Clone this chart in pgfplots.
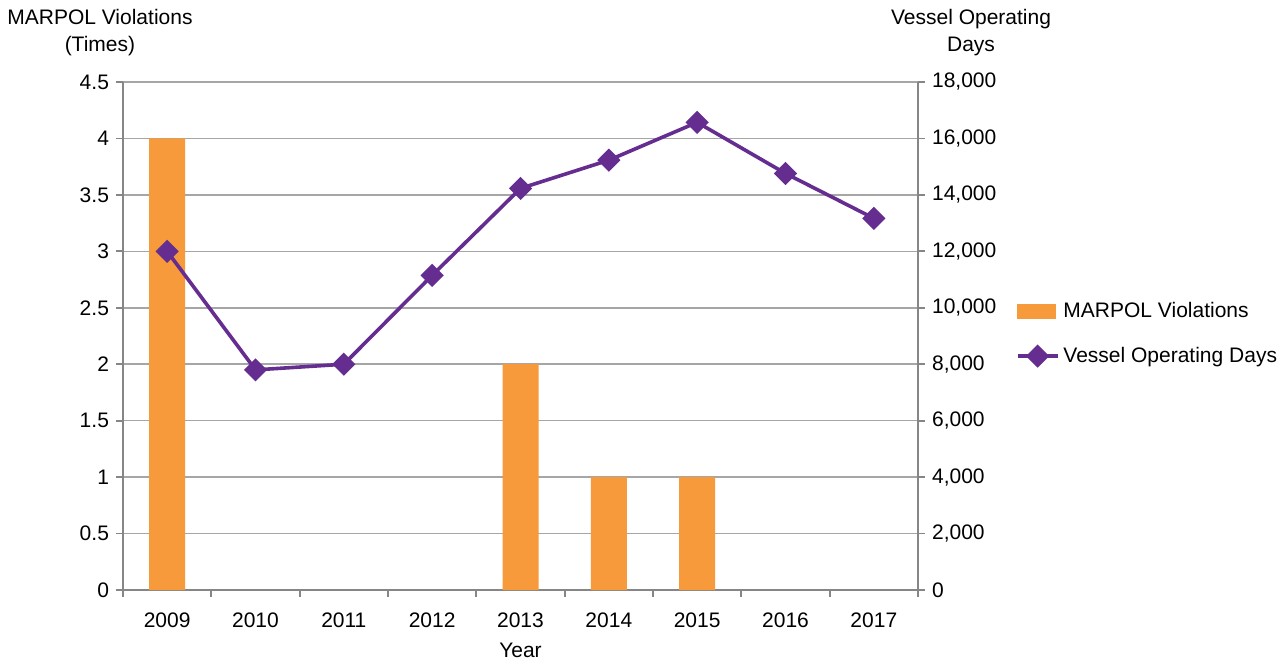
\documentclass[border=0pt]{standalone}
\usepackage{fontspec}
\setmainfont{Liberation Sans}
\usepackage{pgfplots}
\pgfplotsset{compat=1.18}
\definecolor{barorange}{RGB}{247,154,59}
\definecolor{linepurple}{RGB}{102,45,145}
\definecolor{gridgray}{RGB}{166,166,166}
\definecolor{axgray}{RGB}{134,134,134}
\begin{document}
\begin{tikzpicture}[font=\fontsize{10.5pt}{13.5pt}\selectfont]
\path[use as bounding box] (-61.5pt,-35pt) rectangle (580.5pt,295pt);
\begin{axis}[
  scale only axis, width=397.5pt, height=254pt,
  clip=false,
  xmin=-0.5, xmax=8.5, ymin=0, ymax=4.5,
  ybar, bar width=18pt,
  axis x line*=bottom, axis y line*=left,
  axis line style={axgray, line width=0.9pt},
  tick style={axgray, line width=0.9pt},
  tick align=outside,
  major tick length=3.5pt,
  xtick={-0.5,0.5,1.5,2.5,3.5,4.5,5.5,6.5,7.5,8.5},
  xticklabels={},
  extra x ticks={0,1,2,3,4,5,6,7,8},
  extra x tick labels={2009,2010,2011,2012,2013,2014,2015,2016,2017},
  extra x tick style={major tick length=0pt, xticklabel style={yshift=-8pt}},
  ytick={0,0.5,1,1.5,2,2.5,3,3.5,4,4.5},
  ymajorgrids,
  grid style={gridgray, line width=0.75pt},
  /pgf/number format/assume math mode=true,
  xlabel={Year},
  xlabel style={at={(axis description cs:0.5,-0.118)}, anchor=center},
  yticklabel style={text=black},
  xticklabel style={text=black},
]
\addplot[fill=barorange, draw=none] coordinates {(0,4)(4,2)(5,1)(6,1)};
\node[align=center] at (rel axis cs:-0.029,1.0965) {MARPOL Violations\\(Times)};
\node[align=center] at (rel axis cs:1.0667,1.0965) {Vessel Operating\\Days};
\end{axis}
\begin{axis}[
  scale only axis, width=397.5pt, height=254pt,
  clip=false,
  xmin=-0.5, xmax=8.5, ymin=0, ymax=18000,
  axis x line=none, axis y line*=right,
  axis line style={axgray, line width=0.9pt},
  tick style={axgray, line width=0.9pt},
  tick align=outside,
  major tick length=3.5pt,
  ytick={0,2000,4000,6000,8000,10000,12000,14000,16000,18000},
  scaled y ticks=false,
  /pgf/number format/assume math mode=true,
  yticklabel style={text=black, /pgf/number format/1000 sep={,}},
  legend style={at={(rel axis cs:1.115,0.504)}, anchor=west, draw=none, fill=none,
    row sep=9pt, legend cell align=left, font=\fontsize{10.5pt}{12.6pt}\selectfont},
]
\addlegendimage{legend image code/.code={\fill[barorange] (0pt,-3.5pt) rectangle (19pt,3.5pt);}}
\addlegendentry{MARPOL Violations}
\addplot[linepurple, line width=1.8pt, mark=square*, mark size=3.2pt,
  mark options={rotate=45, solid},
  legend image code/.code={\draw[mark repeat=2,mark phase=2] plot coordinates {(0pt,0pt)(10pt,0pt)(20pt,0pt)};}]
  coordinates {(0,12000)(1,7800)(2,8000)(3,11150)(4,14230)(5,15230)(6,16570)(7,14760)(8,13170)};
\addlegendentry{Vessel Operating Days}
\end{axis}
\end{tikzpicture}
\end{document}
